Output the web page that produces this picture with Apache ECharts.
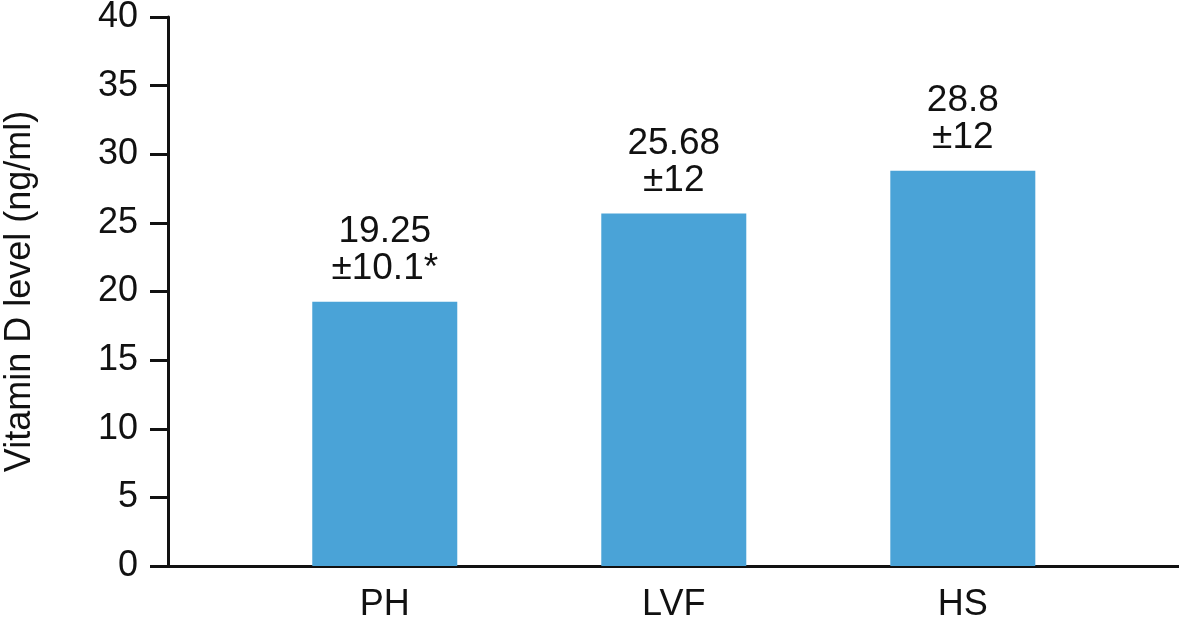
<!DOCTYPE html>
<html>
<head>
<meta charset="utf-8">
<script src="https://cdn.jsdelivr.net/npm/echarts@6/dist/echarts.min.js"></script>
<style>html,body{margin:0;padding:0;background:#fff;}#c{width:1179px;height:623px;}</style>
</head>
<body>
<div id="c"></div>
<script>
const categories = ['PH', 'LVF', 'HS'];
const means = [19.25, 25.68, 28.8];
const sdLabels = ['±10.1*', '±12', '±12'];
const yTicks = [0, 5, 10, 15, 20, 25, 30, 35, 40];

const chart = echarts.init(document.getElementById('c'));
const font = 'Liberation Sans, Arial, Helvetica, sans-serif';
chart.setOption({
  animation: false,
  grid: { left: 168, right: 0, top: 17, bottom: 57, containLabel: false, outerBoundsMode: 'none' },
  xAxis: {
    type: 'value',
    min: -0.75,
    max: 2.748,
    splitLine: { show: false },
    axisLine: { show: true, onZero: false, lineStyle: { color: '#111', width: 3 } },
    axisTick: { show: false },
    axisLabel: {
      customValues: [0, 1, 2],
      formatter: v => categories[Math.round(v)] || '',
      color: '#111', fontFamily: font, fontSize: 36, margin: 21
    }
  },
  yAxis: {
    type: 'value',
    min: 0, max: 40, interval: 5,
    name: 'Vitamin D level (ng/ml)',
    nameLocation: 'middle',
    nameGap: 130,
    nameTextStyle: { color: '#111', fontFamily: font, fontSize: 36 },
    splitLine: { show: false },
    axisLine: { show: true, onZero: false, lineStyle: { color: '#111', width: 3 } },
    axisTick: { show: true, length: 18, lineStyle: { color: '#111', width: 3 } },
    axisLabel: { color: '#111', fontFamily: font, fontSize: 36, margin: 30,
      formatter: v => yTicks.includes(v) ? String(v) : '' }
  },
  series: [{
    type: 'bar',
    barWidth: 145,
    data: means.map((m, i) => [i, m]),
    itemStyle: { color: '#4aa3d7' },
    label: {
      show: true, position: 'top', distance: 14,
      color: '#111', fontFamily: font, fontSize: 37, lineHeight: 37,
      formatter: p => means[p.dataIndex] + '\n' + sdLabels[p.dataIndex]
    }
  }]
});
</script>
</body>
</html>
